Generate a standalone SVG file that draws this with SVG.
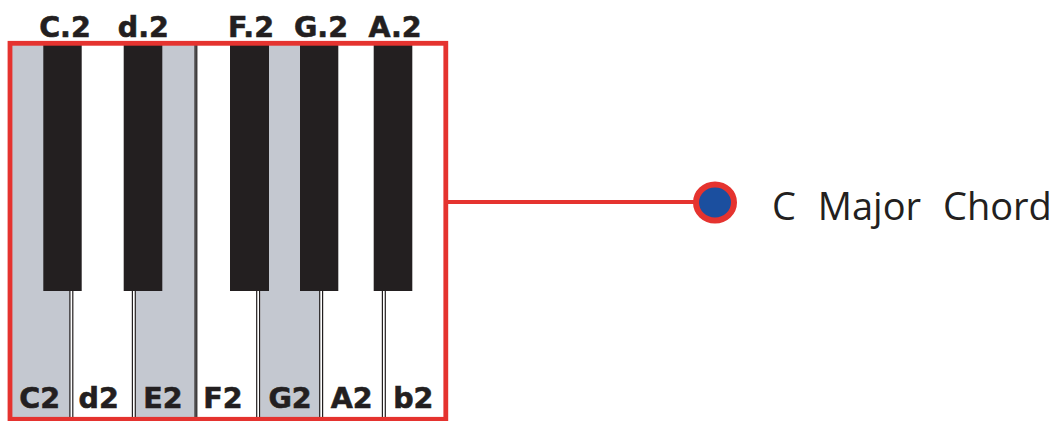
<svg xmlns="http://www.w3.org/2000/svg" width="1064" height="421" viewBox="0 0 1064 421">
  <style>
    .white { fill: #ffffff; }
    .grey { fill: #c4c8d0; }
    .black { fill: #231f20; }
    .div { fill: #ffffff; stroke: #231f20; stroke-width: 1.2; }
    .frame { fill: none; stroke: #e5332f; stroke-width: 4.8; }
    .note { font-family: "DejaVu Sans", "Liberation Sans", sans-serif; font-weight: bold; font-size: 28.5px; fill: #231f20; stroke: #231f20; stroke-width: 0.6; text-anchor: middle; }
    .label { font-family: "Open Sans", "Liberation Sans", sans-serif; font-size: 38px; fill: #231f20; word-spacing: 12px; }
    .conn { stroke: #e5332f; stroke-width: 4; fill: none; }
    .dot { fill: #1b4f9f; stroke: #e5332f; stroke-width: 6; }
  </style>
  <rect x="0" y="0" width="1064" height="421" fill="#ffffff"/>

  <g id="keyboard">
    <rect class="white" x="12" y="45" width="432" height="373"/>
    <g id="white-keys">
      <rect id="key-C2" class="grey" x="12" y="45" width="58" height="373"/>
      <rect id="key-E2" class="grey" x="136" y="45" width="58.5" height="373"/>
      <rect id="key-G2" class="grey" x="260.3" y="45" width="59" height="373"/>
    </g>
    <g id="dividers">
      <rect class="div" x="69.9" y="285" width="2.9" height="133"/>
      <rect class="div" x="132.4" y="285" width="2.9" height="133"/>
      <rect x="194.4" y="45" width="3" height="373" fill="#231f20"/>
      <rect x="195.4" y="45" width="1" height="373" fill="#6a6a6a"/>
      <rect class="div" x="256.7" y="285" width="2.9" height="133"/>
      <rect class="div" x="319.7" y="285" width="2.9" height="133"/>
      <rect class="div" x="382.4" y="285" width="2.9" height="133"/>
    </g>
    <g id="black-keys">
      <rect id="key-Cs2" class="black" x="43.3" y="45" width="38.4" height="246"/>
      <rect id="key-Ds2" class="black" x="123.7" y="45" width="38.6" height="246"/>
      <rect id="key-Fs2" class="black" x="230" y="45" width="39" height="246"/>
      <rect id="key-Gs2" class="black" x="300" y="45" width="38.3" height="246"/>
      <rect id="key-As2" class="black" x="373.7" y="45" width="38.6" height="246"/>
    </g>
    <rect id="frame" class="frame" x="10" y="43.3" width="435.8" height="376"/>
  </g>

  <g id="top-labels">
    <text class="note" x="65" y="36.5">C.2</text>
    <text class="note" x="143.3" y="36.5">d.2</text>
    <text class="note" x="251" y="36.5">F.2</text>
    <text class="note" x="321" y="36.5">G.2</text>
    <text class="note" x="395" y="36.5">A.2</text>
  </g>

  <g id="bottom-labels">
    <text class="note" x="39.6" y="408.3">C2</text>
    <text class="note" x="98.7" y="408.3">d2</text>
    <text class="note" x="163" y="408.3">E2</text>
    <text class="note" x="223" y="408.3">F2</text>
    <text class="note" x="290" y="408.3">G2</text>
    <text class="note" x="351.7" y="408.3">A2</text>
    <text class="note" x="413.3" y="408.3">b2</text>
  </g>

  <g id="connectors">
    <line class="conn" x1="446" y1="202" x2="697" y2="202"/>
  </g>

  <g id="chord-node">
    <ellipse class="dot" cx="715" cy="202.5" rx="19" ry="18"/>
    <text class="label" x="772" y="220">C Major Chord</text>
  </g>
</svg>
